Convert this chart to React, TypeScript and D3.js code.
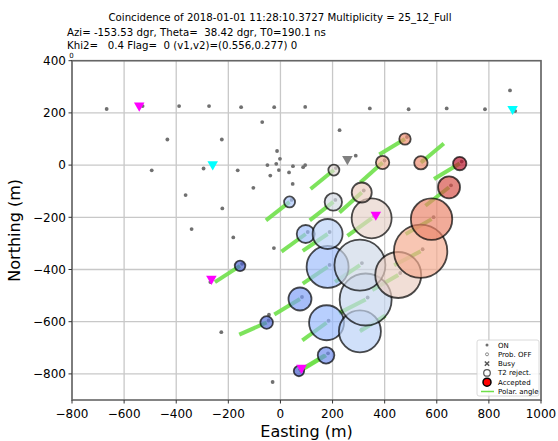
import React from 'react';
import * as d3 from 'd3';

const W = 558;
const H = 441;

const xTicks = [-800, -600, -400, -200, 0, 200, 400, 600, 800, 1000];
const yTicks = [-800, -600, -400, -200, 0, 200, 400];

const titleLine1 = 'Coincidence of 2018-01-01 11:28:10.3727 Multiplicity = 25_12_Full';
const titleLine2 = 'Azi= -153.53 dgr, Theta=  38.42 dgr, T0=190.1 ns';
const titleLine3 = 'Khi2=   0.4 Flag=  0 (v1,v2)=(0.556,0.277) 0';

// antennas ON (not triggered)
const onX = [-667, -529, -389, -274, -151, -24, 95, 343, 492, 638, 785, 881, 901,
  -70, -434, -225, 227,
  -494, -295, -164, -50, -39, -104, -364,
  -13, -2, -16, -6, 48, 33, 87, 95, 289, 47,
  -223, -341, -181, -25, -269, -44, -227, -30];
const onY = [215, 226, 226, 226, 222, 222, 223, 217, 214, 217, 214, 286, 207,
  165, 98, 98, 134,
  -20, -13, -20, 0, -40, -87, -115,
  54, 24, 5, -19, -4, -28, -8, 0, 36, -72,
  -166, -245, -277, -318, -448, -573, -640, -831];

// triggered antennas (T2 reject): position, amplitude (marker radius), trigger time (colour), polar angle
const t2X = [-155, -53, 71, 75, 175, 177, 181, 97, 35, 181, 305, 327, 305, 203, 205, 350, 312, 452, 392, 538, 478, 539, 580, 647, 688];
const t2Y = [-386, -603, -789, -513, -729, -604, -390, -264, -141, -264, -637, -515, -383, -141, -19, -204, -105, -421, 10, -330, 100, 9, -207, -85, 6];
const t2Amp = [5.3, 6.3, 5.2, 11.5, 8.3, 17.5, 21, 9, 5.5, 15, 21, 26, 25.5, 8.7, 5.5, 20, 10, 23, 6.7, 26.7, 5.7, 6.7, 20.7, 11, 6.7];
const t2Time = [0.05, 0.08, 0.03, 0.2, 0.15, 0.28, 0.3, 0.3, 0.33, 0.38, 0.38, 0.42, 0.45, 0.47, 0.52, 0.55, 0.58, 0.57, 0.7, 0.7, 0.78, 0.78, 0.8, 0.9, 0.98];
const t2Polar = [213, 204, 31, 211, 211, 216, 214, 216, 218, 214, 32, 207, 214, 218, 219, 216, 222, 210, 222, 208, 211, 40, 210, 218, 211];

// trigger markers
const magX = [-542, -265, 366, 81];
const magY = [228, -436, -190, -777];
const cyanX = [-260, 891];
const cyanY = [3, 215];
const grayTriX = [257];
const grayTriY = [23];

const legendLabels = ['ON', 'Prob. OFF', 'Busy', 'T2 reject.', 'Accepted', 'Polar. angle'];

const coolStops = [0, 0.125, 0.25, 0.375, 0.5, 0.625, 0.75, 0.875, 1];
const coolColors = ['#3b4cc0', '#6282ea', '#8db0fe', '#b8d0f9', '#dddddd', '#f5c4ad', '#f49a7b', '#de604d', '#b40426'];

export default function App() {
  const x = d3.scaleLinear().domain([-800, 1000]).range([72, 541]);
  const y = d3.scaleLinear().domain([-900, 400]).range([400, 60.7]);
  const rScale = d3.scaleLinear().domain([0, 30]).range([0, 30]);
  const cool = d3.scaleLinear<string>().domain(coolStops).range(coolColors).interpolate(d3.interpolateRgb);
  const polarLen = 115;
  const tri = d3.symbol().type(d3.symbolTriangle).size(48)();
  const font = 'DejaVu Sans, sans-serif';
  const [x0, x1] = x.range();
  const [y0, y1] = y.range();

  const lg = { x: 477, y: 340, w: 62, h: 56 };
  const rowY = (i: number) => 345 + i * 9.3;
  const mx = 487;

  return (
    <svg width={W} height={H} style={{ position: 'absolute', left: 0, top: 0, background: '#fff' }} fontFamily={font}>
      <rect x={0} y={0} width={W} height={H} fill="#fff" />
      {/* title */}
      <text x={280} y={20.5} textAnchor="middle" fontSize={10.2} style={{ whiteSpace: 'pre' }}>{titleLine1}</text>
      <text x={67} y={35.5} fontSize={10.2} style={{ whiteSpace: 'pre' }}>{titleLine2}</text>
      <text x={67} y={49} fontSize={10.2} style={{ whiteSpace: 'pre' }}>{titleLine3}</text>
      <text x={71.5} y={58} fontSize={7} textAnchor="middle">0</text>

      {/* grid */}
      {xTicks.map((t) => (
        <line key={'gx' + t} x1={x(t)} x2={x(t)} y1={y0} y2={y1} stroke="#c8c8c8" strokeWidth={1.3} />
      ))}
      {yTicks.map((t) => (
        <line key={'gy' + t} x1={x0} x2={x1} y1={y(t)} y2={y(t)} stroke="#c8c8c8" strokeWidth={1.3} />
      ))}

      {/* ON antennas */}
      {onX.map((v, i) => (
        <circle key={'on' + i} cx={x(v)} cy={y(onY[i])} r={1.9} fill="#707070" />
      ))}
      {t2X.map((v, i) => (
        <circle key={'onc' + i} cx={x(v) + 2} cy={y(t2Y[i]) - 2} r={1.9} fill="#707070" />
      ))}

      {/* polar angle lines */}
      {t2X.map((v, i) => {
        const a = (t2Polar[i] * Math.PI) / 180;
        return (
          <line key={'pl' + i} x1={x(v)} y1={y(t2Y[i])} x2={x(v + polarLen * Math.cos(a))} y2={y(t2Y[i] + polarLen * Math.sin(a))}
            stroke="#6fe04a" strokeWidth={4} strokeOpacity={0.9} />
        );
      })}

      {/* T2 circles */}
      {t2X.map((v, i) => (
        <circle key={'t2' + i} cx={x(v)} cy={y(t2Y[i])} r={rScale(t2Amp[i])} fill={cool(t2Time[i])} fillOpacity={0.68}
          stroke="#000" strokeOpacity={0.7} strokeWidth={1.8} />
      ))}

      {/* trigger triangles */}
      {magX.map((v, i) => (
        <path key={'mg' + i} d={tri} transform={`translate(${x(v)},${y(magY[i])}) rotate(180)`} fill="#ff00ff" />
      ))}
      {cyanX.map((v, i) => (
        <path key={'cy' + i} d={tri} transform={`translate(${x(v)},${y(cyanY[i])}) rotate(180)`} fill="#00ffff" />
      ))}
      {grayTriX.map((v, i) => (
        <path key={'gt' + i} d={tri} transform={`translate(${x(v)},${y(grayTriY[i])}) rotate(180)`} fill="#808080" />
      ))}

      {/* axes frame */}
      <rect x={x0} y={y1} width={x1 - x0} height={y0 - y1} fill="none" stroke="#666" strokeWidth={1.6} />

      {/* ticks */}
      {xTicks.map((t) => (
        <g key={'xt' + t}>
          <line x1={x(t)} x2={x(t)} y1={y0} y2={y0 + 3.5} stroke="#333" strokeWidth={1} />
          <text x={x(t)} y={417.5} textAnchor="middle" fontSize={12}>{t < 0 ? '\u2212' + Math.abs(t) : String(t)}</text>
        </g>
      ))}
      {yTicks.map((t) => (
        <g key={'yt' + t}>
          <line x1={x0 - 3.5} x2={x0} y1={y(t)} y2={y(t)} stroke="#333" strokeWidth={1} />
          <text x={x0 - 6} y={y(t) + 4.3} textAnchor="end" fontSize={12}>{t < 0 ? '\u2212' + Math.abs(t) : String(t)}</text>
        </g>
      ))}

      {/* axis labels */}
      <text x={(x0 + x1) / 2} y={437} textAnchor="middle" fontSize={16}>Easting (m)</text>
      <text transform={`translate(20,${(y0 + y1) / 2}) rotate(-90)`} textAnchor="middle" fontSize={16}>Northing (m)</text>

      {/* legend */}
      <rect x={lg.x} y={lg.y} width={lg.w} height={lg.h} rx={2} fill="#fff" fillOpacity={0.85} stroke="#d0d0d0" strokeWidth={0.8} />
      <circle cx={mx} cy={rowY(0)} r={1.5} fill="#707070" />
      <circle cx={mx} cy={rowY(1)} r={1.5} fill="none" stroke="#707070" strokeWidth={0.8} />
      <path d={d3.symbol().type(d3.symbolX).size(14)()!} transform={`translate(${mx},${rowY(2)})`} fill="none" stroke="#555" strokeWidth={1.5} />
      <circle cx={mx} cy={rowY(3)} r={3.3} fill="none" stroke="#555" strokeWidth={1.2} />
      <circle cx={mx} cy={rowY(4)} r={4} fill="#ff0000" stroke="#000" strokeWidth={1.5} />
      <line x1={481} x2={494} y1={rowY(5)} y2={rowY(5)} stroke="#6fe04a" strokeWidth={1.5} />
      {legendLabels.map((l, i) => (
        <text key={'lg' + i} x={498} y={rowY(i) + 2.5} fontSize={7}>{l}</text>
      ))}
    </svg>
  );
}
